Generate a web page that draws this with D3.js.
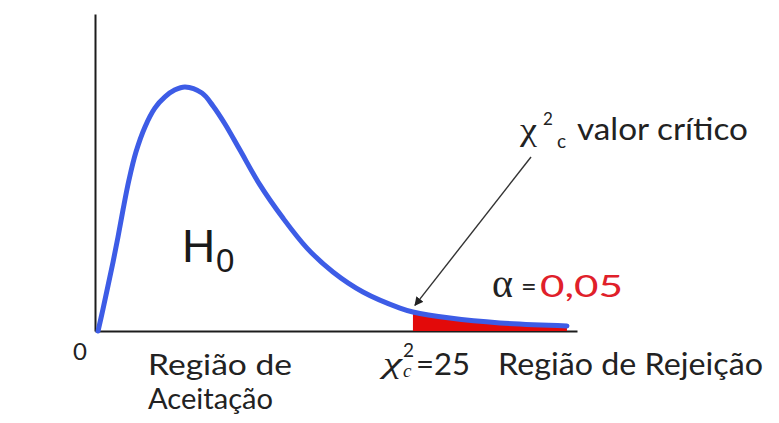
<!DOCTYPE html>
<html>
<head>
<meta charset="utf-8">
<script src="https://cdn.jsdelivr.net/npm/d3@7"></script>
<style>
  html, body { margin: 0; padding: 0; background: #fff; }
  svg { display: block; }
</style>
</head>
<body>
<svg id="chart" width="779" height="423"></svg>
<script>

// valores de qui-quadrado
let chiValues = [0.24, 0.63, 1.02, 1.42, 1.81, 2.20, 2.67, 3.22, 3.93, 4.72, 5.50, 6.29, 7.08,
  8.41, 9.28, 10.22, 11.40, 12.97, 14.78, 16.67, 18.71, 21.07, 23.98, 25.0, 27.91, 31.84, 37.11];

// densidade correspondente
let densities = [0.0, 0.0090, 0.0185, 0.0283, 0.0386, 0.0496, 0.0619, 0.0734, 0.0837, 0.0915, 0.0960, 0.0989, 0.1001,
  0.0976, 0.0923, 0.0849, 0.0742, 0.0599, 0.0463, 0.0340, 0.0242, 0.0160, 0.0094, 0.0078, 0.0053, 0.0033, 0.0021];

// valor crítico e nível de significância
let criticalValue = 25;
let alphaText = "0,05";
let zeroLabel = "0";
let acceptLabel = ["Região de", "Aceitação"];
let rejectLabel = "Região de Rejeição";
let criticalLabel = "valor crítico";

let points = chiValues.map((d, i) => ({x: d, y: densities[i]}));

let svg = d3.select("#chart");

// escalas
let x = d3.scaleLinear().domain([0, 37.9]).range([95, 577]);
let y = d3.scaleLinear().domain([0, 0.13]).range([331, 14]);

// eixo x
let xAxis = svg.append("g")
  .attr("class", "x-axis")
  .attr("transform", "translate(" + [0, y(0)].join(",") + ")")
  .call(d3.axisBottom(x).tickValues([]).tickSizeOuter(0));

// eixo y
let yAxis = svg.append("g")
  .attr("class", "y-axis")
  .attr("transform", "translate(" + [x(0), 0].join(",") + ")")
  .call(d3.axisLeft(y).tickValues([]).tickSizeOuter(0));

svg.selectAll("g.x-axis path, g.y-axis path")
  .attr("stroke", "#1c1c1c")
  .attr("stroke-width", 2);

let smooth = d3.curveCatmullRom.alpha(0.5);

// região de rejeição (área vermelha)
let tail = points.filter(d => d.x >= criticalValue);
svg.append("path")
  .datum(tail)
  .attr("fill", "#e30a0a")
  .attr("d", d3.area()
    .x(d => x(d.x))
    .y0(y(0))
    .y1(d => y(d.y))
    .curve(smooth));

// curva de densidade
svg.append("path")
  .datum(points)
  .attr("fill", "none")
  .attr("stroke", "#3d5ce6")
  .attr("stroke-width", 5)
  .attr("stroke-linecap", "round")
  .attr("stroke-linejoin", "round")
  .attr("d", d3.line()
    .x(d => x(d.x))
    .y(d => y(d.y))
    .curve(smooth));

// seta para o valor crítico
svg.append("defs").append("marker")
  .attr("id", "head")
  .attr("viewBox", "0 0 10 10")
  .attr("refX", 9)
  .attr("refY", 5)
  .attr("markerWidth", 9)
  .attr("markerHeight", 9)
  .attr("markerUnits", "userSpaceOnUse")
  .attr("orient", "auto")
  .append("path")
  .attr("d", "M0,0L10,5L0,10Z")
  .attr("fill", "#222");

svg.append("line")
  .attr("x1", 531)
  .attr("y1", 157)
  .attr("x2", x(criticalValue) + 2)
  .attr("y2", y(0.0105))
  .attr("stroke", "#333")
  .attr("stroke-width", 1.4)
  .attr("marker-end", "url(#head)");

// textos
let sans = "Lato, 'Open Sans', sans-serif";
let serif = "'Liberation Serif', 'DejaVu Serif', serif";
let arial = "'Liberation Sans', Arial, sans-serif";

function addText(str, px, py, size, opts = {}) {
  let t = svg.append("text")
    .attr("x", px)
    .attr("y", py)
    .attr("font-family", opts.family || sans)
    .attr("font-size", size)
    .attr("fill", opts.fill || "#222")
    .text(str);
  if (opts.italic) t.attr("font-style", "italic");
  if (opts.anchor) t.attr("text-anchor", opts.anchor);
  if (opts.len) {
    t.attr("textLength", opts.len).attr("lengthAdjust", "spacingAndGlyphs");
  }
  return t;
}

// H0
addText("H", 182, 262, 46, {family: arial, fill: "#1a1a1a"});
addText("0", 216, 272, 33, {family: arial, fill: "#1a1a1a"});

// rótulo do valor crítico
addText("χ", 520, 140, 32, {family: serif, len: 17});
addText("2", 543, 125, 17);
addText("c", 557, 148, 19);
addText(criticalLabel, 577, 140, 31, {len: 171});

// alfa
addText("α", 492, 297, 40, {family: serif});
addText("=", 521, 296, 27);
addText(alphaText, 540, 297, 30, {fill: "#e0202a", len: 83});

// rótulos do eixo
addText(zeroLabel, x(0) - 15, 360, 24, {anchor: "middle"});
addText(acceptLabel[0], 148, 375, 28, {len: 144});
addText(acceptLabel[1], 148, 409, 28, {len: 125});

addText("χ", 383, 373, 30, {family: serif, italic: true, len: 19});
addText("2", 403, 357, 19);
addText("c", 403, 377, 19, {family: serif, italic: true});
addText("=" + criticalValue, 416, 375, 30, {len: 54});
addText(rejectLabel, 498, 375, 31, {len: 265});

</script>
</body>
</html>
